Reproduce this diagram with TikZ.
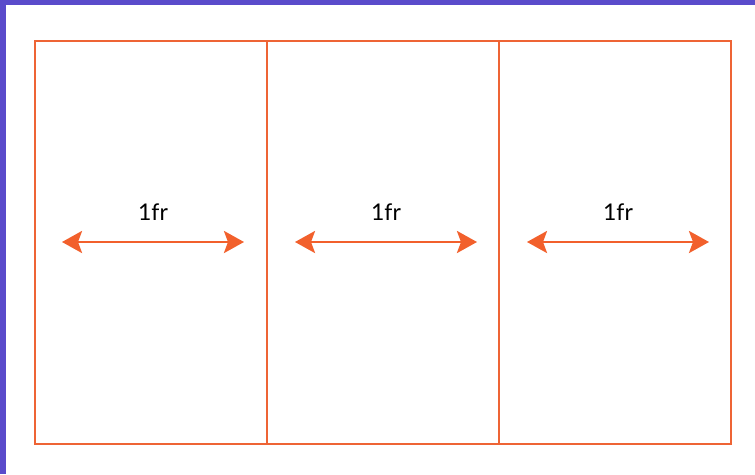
\documentclass[tikz,border=0pt]{standalone}
\usepackage{fontspec}
\setmainfont{Lato}
\usetikzlibrary{arrows.meta}
\definecolor{frame}{HTML}{5A4BCB}
\definecolor{grid}{HTML}{EE6435}
\definecolor{arr}{HTML}{F2602C}
\tikzset{
  gridline/.style={draw=grid, line width=2.3pt},
  frarrow/.style={arr, line width=2.8pt, {Stealth[width=22pt,length=20pt,inset=4pt]}-{Stealth[width=22pt,length=20pt,inset=4pt]}},
  frlabel/.style={font=\fontsize{23}{26}\selectfont, text=black, inner sep=0pt}
}
\begin{document}
\begin{tikzpicture}[x=1pt,y=-1pt]
\useasboundingbox (0,0) rectangle (755,474);
\fill[white] (0,0) rectangle (755,474);
\fill[frame] (0,0) rectangle (755,5);
\fill[frame] (0,0) rectangle (6,474);
\draw[gridline] (35,41) rectangle (731,444);
\draw[gridline] (267,41) -- (267,444);
\draw[gridline] (499,41) -- (499,444);
\foreach \i/\cx in {1/153,2/386,3/618}{
  \coordinate (l\i) at (\cx-91,242);
  \coordinate (r\i) at (\cx+91,242);
  \draw[frarrow] (l\i) -- (r\i);
  \node[frlabel] (t\i) at (\cx,212) {1fr};
}
\end{tikzpicture}
\end{document}
